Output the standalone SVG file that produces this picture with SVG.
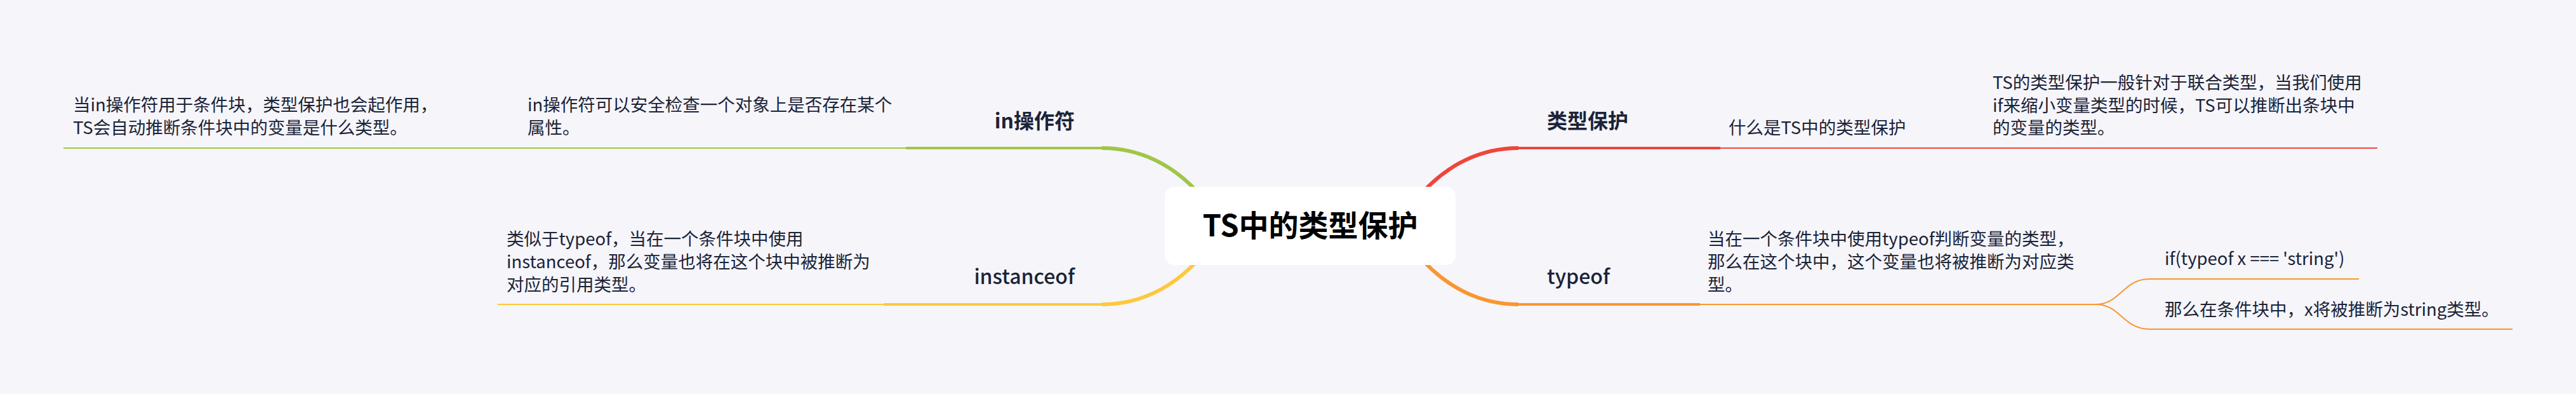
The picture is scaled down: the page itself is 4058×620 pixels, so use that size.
<svg xmlns="http://www.w3.org/2000/svg" width="4058" height="620" viewBox="0 0 4058 620">
<style>
.leaf{font-family:"Noto Sans CJK SC","Noto Sans",sans-serif;font-size:27.5px;fill:#1b2337}
.main{font-family:"Noto Sans CJK SC","Noto Sans",sans-serif;font-size:32px;font-weight:600;fill:#1b2337}
.lat{font-weight:500}
.title{font-family:"Noto Sans CJK SC","Noto Sans",sans-serif;font-size:47px;font-weight:700;fill:#000}
.thin{fill:none;stroke-width:2}
.thick{fill:none;stroke-width:4}
.curve{fill:none;stroke-width:6;stroke-linecap:butt}
.g{stroke:#a1c548}.r{stroke:#f0453a}.y{stroke:#ffc83c}.o{stroke:#f9962f}
</style>
<rect x="0" y="0" width="4058" height="620" fill="#f5f5fa"/>
<g id="connectors">
<path class="curve g" d="M1736,233 C1790,233 1850,255 1900,318"/>
<path class="curve r" d="M2392,233 C2338,233 2278,255 2228,318"/>
<path class="curve y" d="M1736,479 C1790,479 1850,457 1900,394"/>
<path class="curve o" d="M2392,479 C2338,479 2278,457 2228,394"/>
<path class="thick g" d="M1427,233 H1738"/>
<path class="thick r" d="M2390,233 H2710"/>
<path class="thick y" d="M1392,479 H1738"/>
<path class="thick o" d="M2390,479 H2678"/>
<path class="thin g" d="M100,233 H1427"/>
<path class="thin r" d="M2710,233 H3745"/>
<path class="thin y" d="M784,479 H1392"/>
<path class="thin o" d="M2678,479 H3302"/>
<path class="thin o" d="M3302,479 C3340,479 3345,439 3386,439 H3716"/>
<path class="thin o" d="M3302,479 C3340,479 3345,518 3386,518 H3958"/>
</g>
<g id="root">
<rect x="1835" y="294" width="458" height="123" rx="15" fill="#ffffff"/>
<text class="title" x="2064" y="372" text-anchor="middle">TS中的类型保护</text>
</g>
<g id="n-in">
<text class="main" x="1693" y="202" text-anchor="end">in操作符</text>
</g>
<g id="n-in-1">
<text class="leaf" x="831" y="175">in操作符可以安全检查一个对象上是否存在某个</text>
<text class="leaf" x="831" y="211">属性。</text>
</g>
<g id="n-in-2">
<text class="leaf" x="115" y="175">当in操作符用于条件块，类型保护也会起作用，</text>
<text class="leaf" x="115" y="211">TS会自动推断条件块中的变量是什么类型。</text>
</g>
<g id="n-guard">
<text class="main" x="2437" y="202">类型保护</text>
</g>
<g id="n-guard-1">
<text class="leaf" x="2723" y="211">什么是TS中的类型保护</text>
</g>
<g id="n-guard-2">
<text class="leaf" x="3139" y="140">TS的类型保护一般针对于联合类型，当我们使用</text>
<text class="leaf" x="3139" y="176">if来缩小变量类型的时候，TS可以推断出条块中</text>
<text class="leaf" x="3139" y="211">的变量的类型。</text>
</g>
<g id="n-instanceof">
<text class="main lat" x="1693" y="447" text-anchor="end">instanceof</text>
</g>
<g id="n-instanceof-1">
<text class="leaf" x="798" y="386">类似于typeof，当在一个条件块中使用</text>
<text class="leaf" x="798" y="422">instanceof，那么变量也将在这个块中被推断为</text>
<text class="leaf" x="798" y="458">对应的引用类型。</text>
</g>
<g id="n-typeof">
<text class="main lat" x="2437" y="447">typeof</text>
</g>
<g id="n-typeof-1">
<text class="leaf" x="2690" y="386">当在一个条件块中使用typeof判断变量的类型，</text>
<text class="leaf" x="2690" y="422">那么在这个块中，这个变量也将被推断为对应类</text>
<text class="leaf" x="2690" y="458">型。</text>
</g>
<g id="n-typeof-2">
<text class="leaf" x="3410" y="417">if(typeof x === 'string')</text>
</g>
<g id="n-typeof-3">
<text class="leaf" x="3410" y="497">那么在条件块中，x将被推断为string类型。</text>
</g>
</svg>
